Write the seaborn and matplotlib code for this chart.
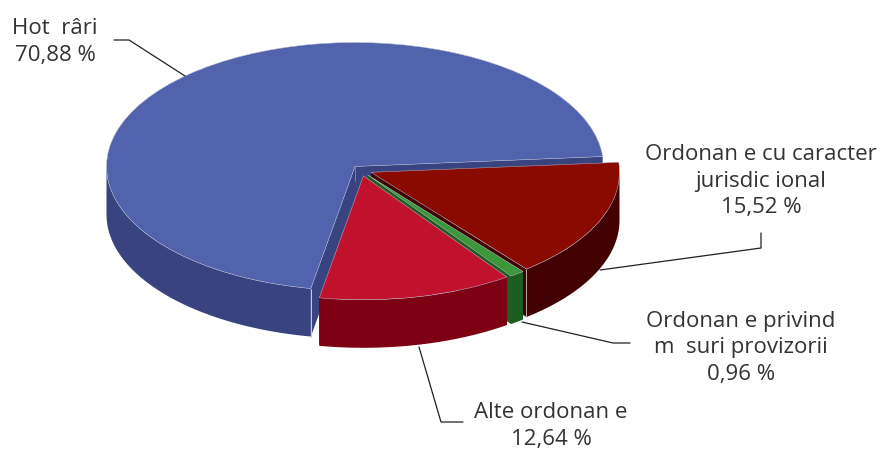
import numpy as np
import matplotlib
matplotlib.use("Agg")
import matplotlib.pyplot as plt
import seaborn as sns

# order follows the pie, counterclockwise from the start angle
categories = ["Hot  râri", "Alte ordonan e", "Ordonan e privind\nm  suri provizorii", "Ordonan e cu caracter\njurisdic ional"]
shares = [70.88, 12.64, 0.96, 15.52]
top_colors = ["#5263AD", "#C0122D", "#3E963A", "#8B0A00"]
side_colors = ["#38437F", "#7E0013", "#1B5E20", "#420000"]

WIDTH, HEIGHT = 882, 450
CX, CY, RX, RY = 355, 166.5, 248.5, 124
DEPTH = 48 / RY
START = 4.6
# shift of each slice away from the pie centre, in pixels (right, down)
shifts_px = [(0, 0), (8.4, 9.3), (12.5, 8.3), (16, 5.8)]
# drawing order, back to front
draw_order = [0, 3, 2, 1]

sns.set_theme(style="white")
plt.rcParams["font.family"] = ["Open Sans", "DejaVu Sans"]

fig = plt.figure(figsize=(WIDTH / 100, HEIGHT / 100), dpi=100)
ax = fig.add_axes([0, 0, 1, 1])
wedges, _ = ax.pie(shares, colors=top_colors, startangle=START, counterclock=True, radius=1,
                   wedgeprops=dict(edgecolor="#B8BCD0", linewidth=0.35))
ax.set_aspect("auto")
ax.set_xlim(-CX / RX, (WIDTH - CX) / RX)
ax.set_ylim((CY - HEIGHT) / RY, CY / RY)
ax.axis("off")


def draw_sides(i, zorder):
    """Outer wall and the two cut faces of slice i, under its top face."""
    w = wedges[i]
    dx, dy = shifts_px[i][0] / RX, -shifts_px[i][1] / RY
    t1, t2 = np.radians(w.theta1), np.radians(w.theta2)
    for t in (t1, t2):
        xs = [dx, dx + np.cos(t), dx + np.cos(t), dx]
        ys = [dy, dy + np.sin(t), dy + np.sin(t) - DEPTH, dy - DEPTH]
        ax.fill(xs, ys, color=side_colors[i], lw=0, zorder=zorder)
    # only the front half of the rim is visible
    front = np.linspace(max(w.theta1, 180), min(w.theta2, 360), 120)
    if i == 0:
        front = np.linspace(180, w.theta2, 120)
    t = np.radians(front)
    xs = np.r_[dx + np.cos(t), dx + np.cos(t[::-1])]
    ys = np.r_[dy + np.sin(t), dy + np.sin(t[::-1]) - DEPTH]
    ax.fill(xs, ys, color=side_colors[i], lw=0, zorder=zorder)


for z, i in enumerate(draw_order):
    draw_sides(i, 2 * z + 1)
    wedges[i].set_center((shifts_px[i][0] / RX, -shifts_px[i][1] / RY))
    wedges[i].set_zorder(2 * z + 2)

# light corner lines seen on the blue slice and next to the green one
t = np.radians(wedges[0].theta2)
ax.plot([np.cos(t)] * 2, [np.sin(t), np.sin(t) - DEPTH], color="#C8CCE0", lw=0.7, zorder=2)
ax.plot([0, 0], [0, -0.12], color="#8088B8", lw=0.6, zorder=2)
t = np.radians(wedges[3].theta1)
corner = (shifts_px[3][0] / RX + np.cos(t), -shifts_px[3][1] / RY + np.sin(t))
ax.plot([corner[0]] * 2, [corner[1], corner[1] - DEPTH], color="#C8B8B8", lw=0.6, zorder=4)

# overlay in pixel coordinates for the labels and leader lines
overlay = fig.add_axes([0, 0, 1, 1])
overlay.set_xlim(0, WIDTH)
overlay.set_ylim(HEIGHT, 0)
overlay.axis("off")
overlay.patch.set_alpha(0)

leader_lines = [
    ([114, 129, 185], [40, 40, 76]),
    ([419, 441, 463], [347, 422, 422]),
    ([522, 613, 630], [322, 343, 343]),
    ([761, 761, 600], [233, 248, 270]),
]
label_pos = [(55, 42), (551, 426), (741, 348), (761, 181)]

for i, name in enumerate(categories):
    overlay.plot(*leader_lines[i], color="#222222", lw=0.9)
    value = f"{shares[i]:.2f}".replace(".", ",") + " %"
    overlay.text(*label_pos[i], f"{name}\n{value}", ha="center", va="center", ma="center",
                 fontsize=16, color="#333333", linespacing=1.33)

fig.savefig("out.png", dpi=100, facecolor="white")
